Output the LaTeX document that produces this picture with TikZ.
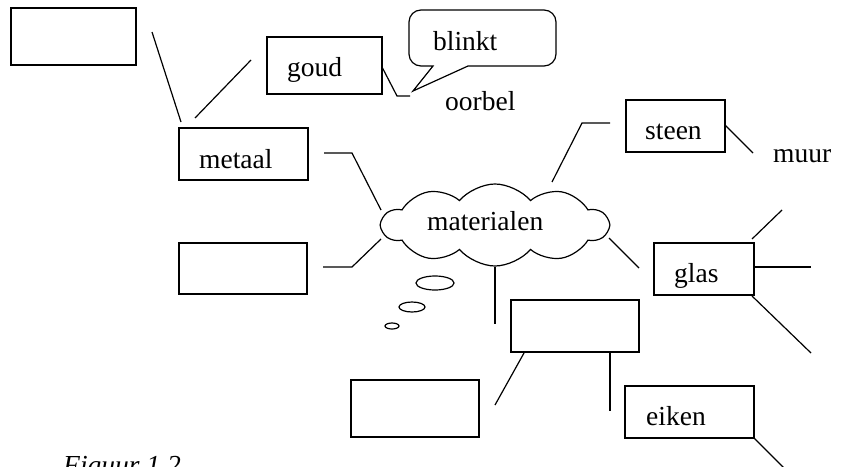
\documentclass[tikz,border=0pt]{standalone}
\usepackage{fontspec}
\setmainfont{Liberation Serif}
\usetikzlibrary{shapes.symbols}
\tikzset{
  box/.style={draw, line width=1.2pt, inner sep=0pt},
  lbl/.style={anchor=base west, inner sep=0pt, font=\fontsize{27.5}{30}\selectfont},
  conn/.style={line width=1.2pt},
}
\begin{document}
\begin{tikzpicture}[x=1pt,y=-1pt]
\useasboundingbox (0,0) rectangle (842,466);
\clip (0,0) rectangle (842,466);
% boxes
\node[box, minimum width=125pt, minimum height=57pt] (b1) at (73.5,36.5) {};
\node[box, minimum width=115pt, minimum height=57pt] (goud) at (324.5,65.5) {};
\node[box, minimum width=129pt, minimum height=52pt] (metaal) at (243.5,154) {};
\node[box, minimum width=99pt, minimum height=52pt] (steen) at (675.5,126) {};
\node[box, minimum width=100pt, minimum height=52pt] (glas) at (704,269) {};
\node[box, minimum width=128pt, minimum height=51pt] (lbox) at (243,268.5) {};
\node[box, minimum width=128pt, minimum height=52pt] (mbox) at (575,326) {};
\node[box, minimum width=128pt, minimum height=57pt] (blbox) at (415,408.5) {};
\node[box, minimum width=129pt, minimum height=52pt] (eiken) at (689.5,412) {};
% cloud
\node[cloud, draw, line width=1.2pt, cloud puffs=10, cloud puff arc=100, aspect=2.6, minimum width=226pt, minimum height=82pt, inner sep=0pt] (cloud) at (495,225) {};
% thought bubbles
\draw[conn] (435,283) ellipse [x radius=19, y radius=7];
\draw[conn] (412,307) ellipse [x radius=13, y radius=5];
\draw[conn] (392,326) ellipse [x radius=7, y radius=3];
% speech bubble
\draw[conn] (433,66) -- (413,91) -- (468,66) [rounded corners=12] -- (556,66) -- (556,10) -- (409,10) -- (409,66) [sharp corners] -- cycle;
% texts
\node[lbl] (tgoud) at (287,76) {goud};
\node[lbl] (tmetaal) at (199,168) {metaal};
\node[lbl] (tsteen) at (645,139) {steen};
\node[lbl] (tmuur) at (773,162) {muur};
\node[lbl] (tglas) at (674,282) {glas};
\node[lbl] (teiken) at (646,425) {eiken};
\node[lbl] (tblinkt) at (433,50) {blinkt};
\node[lbl] (toorbel) at (445,110) {oorbel};
\node[lbl] (tmat) at (427,230) {materialen};
\node[lbl, font=\fontsize{27.5}{30}\selectfont\itshape] (fig) at (63,474) {Figuur 1.2};
% connector coordinates
\coordinate (a1) at (152,32); \coordinate (a2) at (181,122);
\coordinate (c1) at (195,118); \coordinate (c2) at (251,60);
\coordinate (d1) at (382,67); \coordinate (d2) at (397,96); \coordinate (d3) at (410,96);
\coordinate (e1) at (324,153); \coordinate (e2) at (352,153); \coordinate (e3) at (381,210);
\coordinate (f1) at (323,267); \coordinate (f2) at (352,267); \coordinate (f3) at (381,239);
\coordinate (g1) at (610,123); \coordinate (g2) at (582,123); \coordinate (g3) at (552,182);
\coordinate (h1) at (725,125); \coordinate (h2) at (753,153);
\coordinate (i1) at (609,238); \coordinate (i2) at (639,268);
\coordinate (j1) at (752,239); \coordinate (j2) at (782,210);
\coordinate (k1) at (754,267); \coordinate (k2) at (811,267);
\coordinate (m1) at (752,296); \coordinate (m2) at (811,353);
\coordinate (n1) at (495,267); \coordinate (n2) at (495,324);
\coordinate (o1) at (524,353); \coordinate (o2) at (495,405);
\coordinate (p1) at (610,352); \coordinate (p2) at (610,411);
\coordinate (q1) at (754,438); \coordinate (q2) at (784,468);
\draw[conn] (a1) -- (a2);
\draw[conn] (c1) -- (c2);
\draw[conn] (d1) -- (d2) -- (d3);
\draw[conn] (e1) -- (e2) -- (e3);
\draw[conn] (f1) -- (f2) -- (f3);
\draw[conn] (g1) -- (g2) -- (g3);
\draw[conn] (h1) -- (h2);
\draw[conn] (i1) -- (i2);
\draw[conn] (j1) -- (j2);
\draw[conn] (k1) -- (k2);
\draw[conn] (m1) -- (m2);
\draw[conn] (n1) -- (n2);
\draw[conn] (o1) -- (o2);
\draw[conn] (p1) -- (p2);
\draw[conn] (q1) -- (q2);
\end{tikzpicture}
\end{document}
